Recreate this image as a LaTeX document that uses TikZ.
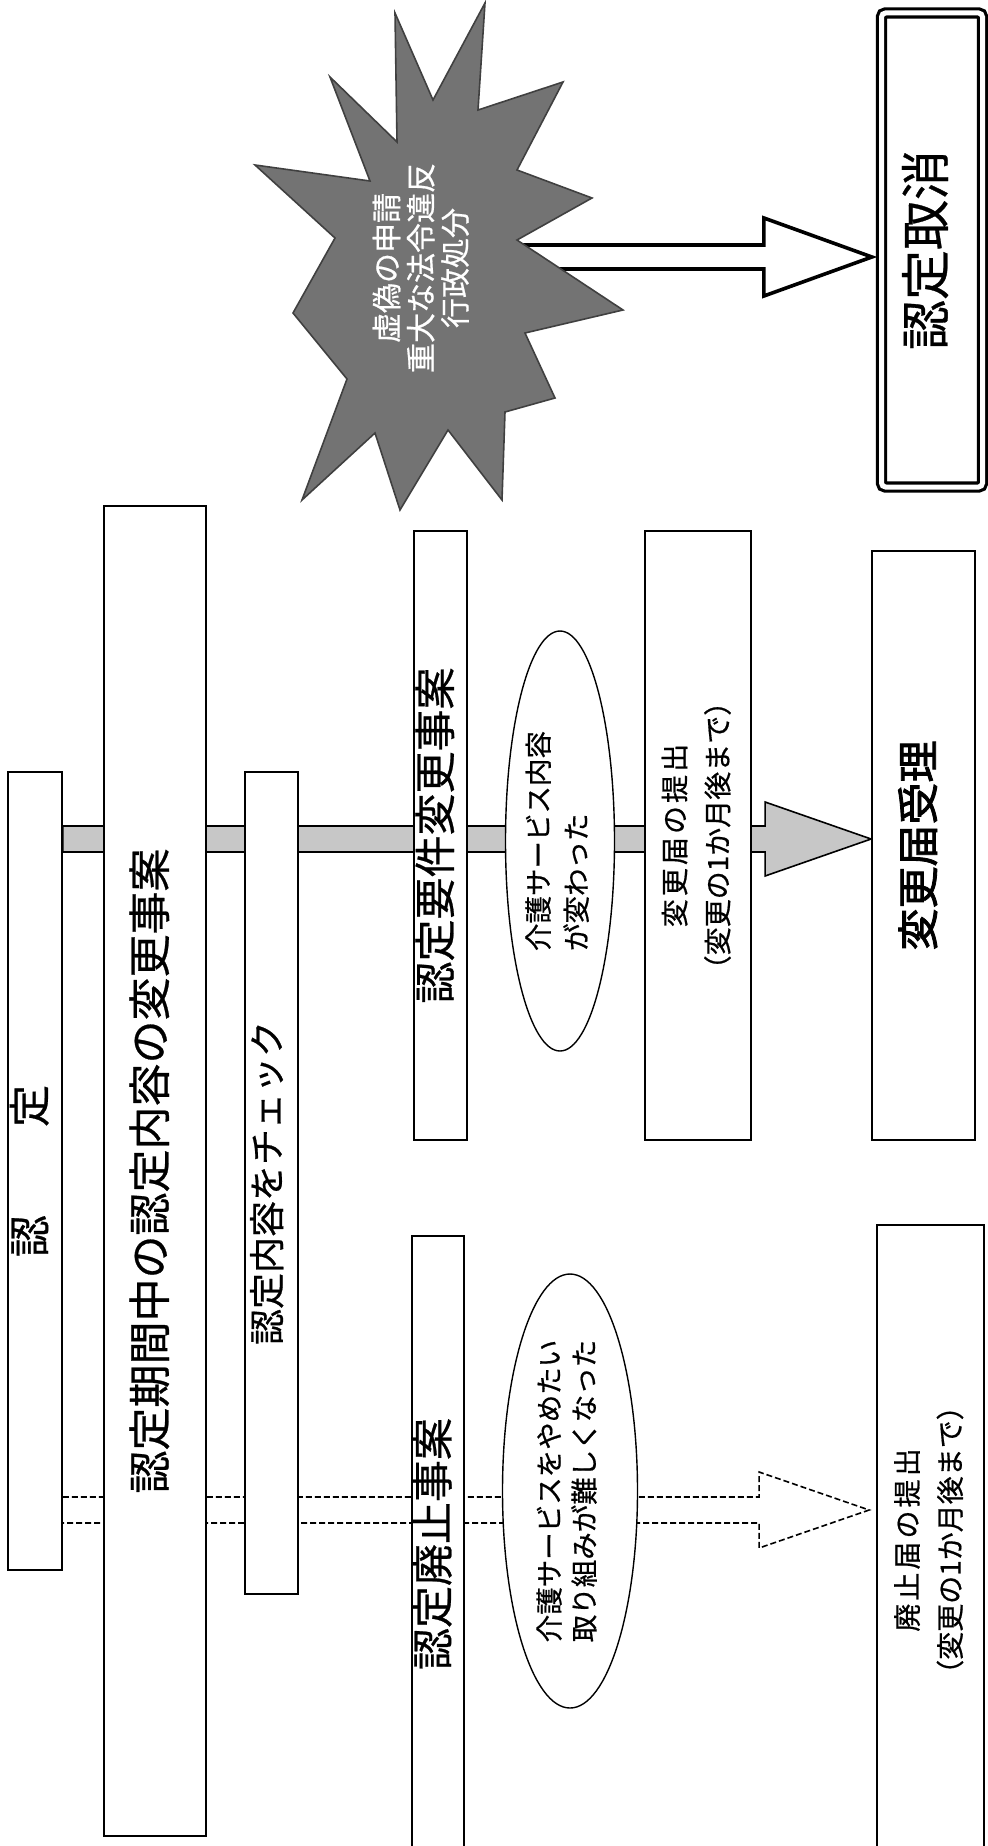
\documentclass[tikz,border=0pt]{standalone}
\usepackage{fontspec}
\usepackage{graphicx}
\setmainfont{Noto Sans CJK JP}[FakeBold=0.6]
\newfontfamily\boldjp{Noto Sans CJK JP}[FakeBold=2]
\usetikzlibrary{calc,shapes.geometric,backgrounds}

\newcommand{\vtext}[1]{\rotatebox{90}{\begin{tabular}{@{}c@{}}#1\end{tabular}}}
\newcommand{\vtextl}[1]{\rotatebox{90}{\begin{tabular}{@{}l@{}}#1\end{tabular}}}
\newcommand{\wide}[1]{{\addfontfeatures{LetterSpace=11}#1}}

\begin{document}
\begin{tikzpicture}[x=0.5pt, y=-0.5pt,
		box/.style={draw, fill=white, line width=0.9pt, inner sep=0pt},
		oval/.style={draw, ellipse, fill=white, line width=0.7pt, inner sep=0pt},
		grayarrow/.style={draw, fill=black!22, line width=0.8pt},
		dasharrow/.style={draw, fill=white, line width=0.8pt, dash pattern=on 3pt off 1.5pt},
		bigarrow/.style={draw, fill=white, line width=1.8pt, line join=miter},
		burst/.style={fill=black!55, draw=black!75, line width=0.8pt}]
	\useasboundingbox (0,0) rectangle (987,1846);

	% left column
	\node[box, minimum width=27pt, minimum height=399pt, font=\fontsize{21}{25}\selectfont] (nintei) at (35,1171) {\vtext{認\hspace{2.1em}定}};
	\node[box, minimum width=51pt, minimum height=665pt, font=\fontsize{21.5}{25}\selectfont] (kikan) at (155,1171) {\vtext{認定期間中の認定内容の変更事案}};
	\node[box, minimum width=26.5pt, minimum height=411pt, font=\fontsize{18}{22}\selectfont] (check) at (271.5,1183) {\vtext{認定内容をチェック}};

	% change / abolition cases
	\node[box, minimum width=26.5pt, minimum height=304.5pt, font=\fontsize{21}{25}\selectfont] (youken) at (440.5,835.5) {\vtext{認定要件変更事案}};
	\node[box, minimum width=26pt, minimum height=308pt, font=\fontsize{21}{25}\selectfont] (haishi) at (438,1544) {\vtext{認定廃止事案}};
	\node[oval, minimum width=54.5pt, minimum height=210pt, font=\fontsize{13.75}{19}\selectfont] (kaigo1) at (560,841) {\vtextl{介護サービス内容\\が変わった}};
	\node[oval, minimum width=67.5pt, minimum height=217pt, font=\fontsize{13.75}{17.5}\selectfont] (kaigo2) at (570,1491) {\vtextl{介護サービスをやめたい\\取り組みが難しくなった}};

	% notifications
	\node[box, minimum width=53pt, minimum height=304.5pt, font=\fontsize{14}{21.5}\selectfont] (teishutsu) at (698,835.5) {\vtext{\wide{変更届の提出}\\（変更の1か月後まで）}};
	\node[box, minimum width=51.5pt, minimum height=294.5pt, font=\boldjp\fontsize{21}{25}\selectfont] (juri) at (923.5,845.5) {\vtext{変更届受理}};
	\node[box, minimum width=53.5pt, minimum height=315pt, font=\fontsize{14}{21.5}\selectfont] (haishitodoke) at (930.5,1540) {\vtext{\wide{廃止届の提出}\\（変更の1か月後まで）}};
	\node[box, double, double distance=2.5pt, line width=1.6pt, rounded corners=2pt, minimum width=50.5pt, minimum height=237pt, font=\fontsize{25}{30}\selectfont] (torikeshi) at (932,250) {\vtext{認定取消}};

	% burst
	\draw[burst] (485,3) -- (478,110) -- (563,82) -- (517,170) -- (592,198) -- (517,240)
		-- (623,310) -- (525,333) -- (555,398) -- (505,412) -- (502,500) -- (448,430)
		-- (400,510) -- (375,433) -- (302,500) -- (347,379) -- (293,313) -- (335,238)
		-- (255,165) -- (370,181) -- (330,77) -- (397,142) -- (395,13) -- (433,100) -- cycle;
	\node[text=white, font=\fontsize{15}{15}\selectfont] (kyogi) at (424,268) {\vtext{虚偽の申請\\重大な法令違反\\行政処分}};

	% arrows
	\coordinate (gtip) at ($(juri.west)+(0,-6.5)$);
	\coordinate (dlevel) at (0,1510);
	\coordinate (dtip) at ($(haishitodoke.west |- dlevel)+(-7,0)$);
	\coordinate (btip) at ($(torikeshi.west)+(-8,7)$);
	\begin{scope}[on background layer]
		\draw[grayarrow] ($(nintei.east |- gtip)+(0,-13)$) -| ($(gtip)+(-106,-37)$) -- (gtip)
			-- ($(gtip)+(-106,37)$) |- ($(nintei.east |- gtip)+(0,13)$) -- cycle;
		\draw[dasharrow] ($(nintei.east |- dtip)+(0,-13)$) -| ($(dtip)+(-110,-38)$) -- (dtip)
			-- ($(dtip)+(-110,38)$) |- ($(nintei.east |- dtip)+(0,13)$);
		\draw[bigarrow] (btip) -- ++(-108,-39) -- ++(0,27) -- ($(kyogi.center |- btip)+(0,-12)$)
			-- ++(0,24) -- ($(btip)+(-108,12)$) -- ++(0,27) -- cycle;
	\end{scope}
\end{tikzpicture}
\end{document}
